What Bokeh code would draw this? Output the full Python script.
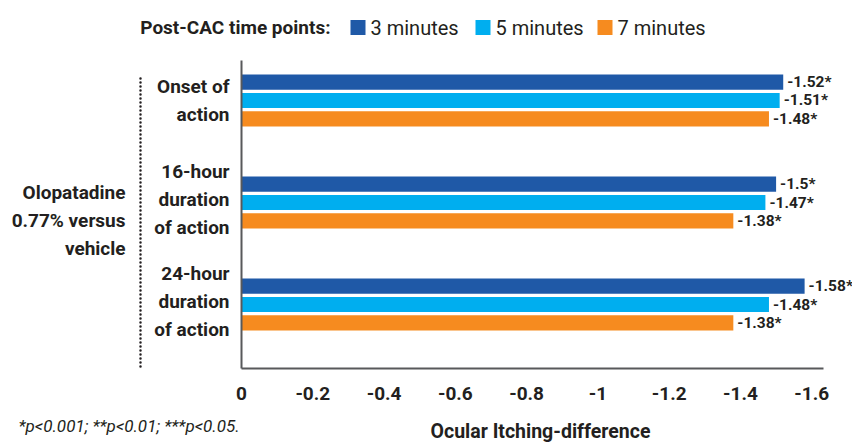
from bokeh.plotting import figure
from bokeh.models import Range1d
from bokeh.core.properties import value
from bokeh.embed import file_html
from bokeh.resources import INLINE

# ---- data ----
categories = [["Onset of", "action"],
              ["16-hour", "duration", "of action"],
              ["24-hour", "duration", "of action"]]
series_names = ["3 minutes", "5 minutes", "7 minutes"]
vals_3min = [-1.52, -1.50, -1.58]
vals_5min = [-1.51, -1.47, -1.48]
vals_7min = [-1.48, -1.38, -1.38]
value_labels_3 = ["-1.52*", "-1.5*", "-1.58*"]
value_labels_5 = ["-1.51*", "-1.47*", "-1.48*"]
value_labels_7 = ["-1.48*", "-1.38*", "-1.38*"]
tick_values = [0, -0.2, -0.4, -0.6, -0.8, -1.0, -1.2, -1.4, -1.6]
tick_labels = ["0", "-0.2", "-0.4", "-0.6", "-0.8", "-1", "-1.2", "-1.4", "-1.6"]
group_label = ["Olopatadine", "0.77% versus", "vehicle"]
legend_title = "Post-CAC time points:"
x_title = "Ocular Itching-difference"
footnote = "*p<0.001; **p<0.01; ***p<0.05."

colors = ["#1F59A7", "#00AEEF", "#F68B1F"]
TXT = "#231F20"
AX = "#58595B"
FONT = value("Roboto")

W, H = 852, 442
FL, FR, FT, FB = 241, 823, 60, 368   # plotting area edges in canvas px
XMAX = -1.633
Y_TOP, Y_BOT = -0.392, 2.627
xpu = (FR - FL) / abs(XMAX)
ypu = (FB - FT) / (Y_BOT - Y_TOP)


def dx(cx):
    return -(cx - FL) / xpu


def dy(cy):
    return Y_TOP + (cy - FT) / ypu


p = figure(width=W, height=H, output_backend="svg", toolbar_location=None,
           x_range=Range1d(dx(0), dx(W)), y_range=Range1d(dy(H), dy(0)),
           min_border_left=0, min_border_right=0, min_border_top=0,
           min_border_bottom=0)
p.outline_line_color = None
p.background_fill_color = "white"
p.border_fill_color = "white"
p.xgrid.visible = False
p.ygrid.visible = False
p.xaxis.visible = False
p.yaxis.visible = False


def txt(x, y, t, size, style="bold", align="left", x_offset=0, color=TXT):
    p.text(x=x, y=y, text=t, text_font=FONT, text_font_style=style,
           text_font_size=value(size), text_color=color, text_align=align,
           text_baseline="middle", x_offset=x_offset)


# bars + value labels
offsets = [-0.18, 0.0, 0.18]
all_vals = [vals_3min, vals_5min, vals_7min]
all_lbls = [value_labels_3, value_labels_5, value_labels_7]
for k in range(3):
    ys = [i + offsets[k] for i in range(len(categories))]
    p.hbar(y=ys, left=0, right=all_vals[k], height=0.148,
           fill_color=colors[k], line_color=None)
    txt(all_vals[k], ys, all_lbls[k], "15.5px", x_offset=4)

# axis lines
p.segment(x0=[0, 0], y0=[dy(FT), dy(FB)], x1=[0, XMAX], y1=[dy(FB), dy(FB)],
          line_color=AX, line_width=2)

# x tick labels and title
txt(tick_values, [dy(393)] * len(tick_values), tick_labels, "19px", align="center")
txt([dx(540)], [dy(431)], [x_title], "19.5px", align="center")

# category labels
line_off = {2: [-14, 14], 3: [-31, -3, 25]}
for i, lines in enumerate(categories):
    cy_center = FT + (i - Y_TOP) * ypu
    ys = [dy(cy_center + o) for o in line_off[len(lines)]]
    txt([dx(FL - 12)] * len(lines), ys, lines, "19px", align="right")

# group label
txt([dx(125)] * 3, [dy(192 + 28 * j) for j in range(3)], group_label, "19px",
    align="right")

# dotted separator
p.line(x=[dx(140), dx(140)], y=[dy(78), dy(FB)], line_color=TXT,
       line_width=2.5, line_dash="0 4", line_cap="round")

# legend
txt([dx(330)], [dy(27)], [legend_title], "19px", align="right")
sq_x = [350, 475, 597]
p.rect(x=[dx(c + 7.5) for c in sq_x], y=[dy(27)] * 3, width=15 / xpu,
       height=15 / ypu, fill_color=colors, line_color=None)
txt([dx(c + 20) for c in sq_x], [dy(27)] * 3, series_names, "20px", style="normal")

# footnote
txt([dx(18)], [dy(425)], [footnote], "17px", style="italic")

open("out.html", "w").write(file_html(p, INLINE))
